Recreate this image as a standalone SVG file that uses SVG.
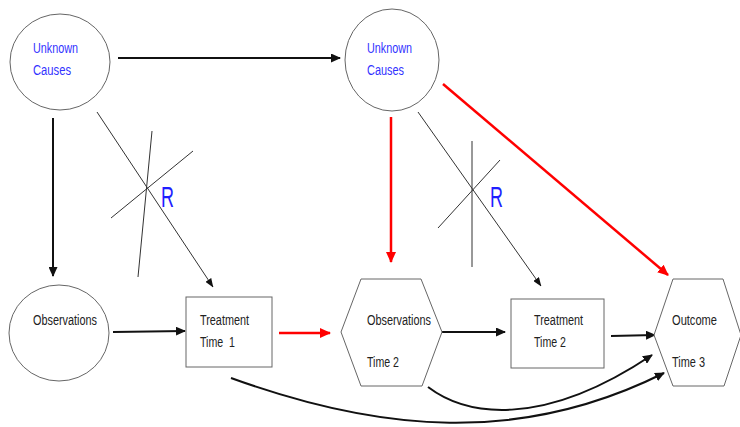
<svg xmlns="http://www.w3.org/2000/svg" width="740" height="427" viewBox="0 0 740 427">
  <style>
    .node { fill: #ffffff; stroke: #666666; stroke-width: 1; }
    .lbl { font-family: "Liberation Sans", Arial, sans-serif; font-size: 14px; fill: #222222; }
    .cause { fill: #3333ff; }
    .rnd { font-family: "Liberation Sans", Arial, sans-serif; font-size: 30px; fill: #1f1fff; }
    .arr { fill: none; stroke: #111111; stroke-width: 2; marker-end: url(#headBlack); }
    .thin { fill: none; stroke: #333333; stroke-width: 1; }
    .thinArr { fill: none; stroke: #333333; stroke-width: 1; marker-end: url(#headSmall); }
    .red { fill: none; stroke: #ff0000; stroke-width: 2.5; marker-end: url(#headRed); }
  </style>
  <defs>
    <marker id="headBlack" viewBox="0 0 10 9" refX="9" refY="4.5" markerWidth="10" markerHeight="9" markerUnits="userSpaceOnUse" orient="auto">
      <path d="M0,0 L10,4.5 L0,9 z" fill="#111111"/>
    </marker>
    <marker id="headSmall" viewBox="0 0 9 7" refX="8.5" refY="3.5" markerWidth="9" markerHeight="7" markerUnits="userSpaceOnUse" orient="auto">
      <path d="M0,0 L9,3.5 L0,7 z" fill="#111111"/>
    </marker>
    <marker id="headRed" viewBox="0 0 11 10" refX="10" refY="5" markerWidth="11" markerHeight="10" markerUnits="userSpaceOnUse" orient="auto">
      <path d="M0,0 L11,5 L0,10 z" fill="#ff0000"/>
    </marker>
  </defs>

  <rect width="740" height="427" fill="#ffffff"/>

  <!-- connectors -->
  <g id="connectors">
    <path class="arr" d="M118,58 L340,58" stroke-width="2.5"/>
    <path class="arr" d="M53,118 L53,276"/>
    <path class="thinArr" d="M97,112 L213,287"/>
    <path class="thin" d="M152,131 L138,277"/>
    <path class="thin" d="M193,151 L111,218"/>
    <path class="arr" d="M113,332 L185,331"/>
    <path class="red" d="M279,333 L330,333"/>
    <path class="arr" d="M442,332 L505,332"/>
    <path class="arr" d="M611,336 L655,335"/>
    <path class="red" d="M391,117 L391,262" stroke-width="2"/>
    <path class="red" d="M443,84 L668,275" stroke-width="3"/>
    <path class="thinArr" d="M418,112 L541,286"/>
    <path class="thin" d="M472,141 L472,267"/>
    <path class="thin" d="M500,160 L438,228"/>
    <path class="arr" d="M428,387 C465,415 540,430 652,355"/>
    <path class="arr" d="M231,378 C380,432 520,445 664,373"/>
  </g>

  <!-- randomisation marks -->
  <g id="random1">
    <text class="rnd" x="161" y="207" textLength="13" lengthAdjust="spacingAndGlyphs">R</text>
  </g>
  <g id="random2">
    <text class="rnd" x="490" y="207" textLength="13" lengthAdjust="spacingAndGlyphs">R</text>
  </g>

  <!-- nodes -->
  <g id="unknown1">
    <ellipse class="node" cx="60" cy="62" rx="50" ry="48"/>
    <text class="lbl cause" x="33" y="53" textLength="45" lengthAdjust="spacingAndGlyphs">Unknown</text>
    <text class="lbl cause" x="33" y="75" textLength="38" lengthAdjust="spacingAndGlyphs">Causes</text>
  </g>
  <g id="unknown2">
    <ellipse class="node" cx="392" cy="60" rx="47" ry="51"/>
    <text class="lbl cause" x="367" y="53" textLength="45" lengthAdjust="spacingAndGlyphs">Unknown</text>
    <text class="lbl cause" x="367" y="75" textLength="37" lengthAdjust="spacingAndGlyphs">Causes</text>
  </g>
  <g id="observations1">
    <ellipse class="node" cx="59" cy="333" rx="50" ry="48"/>
    <text class="lbl" x="33" y="325" textLength="64" lengthAdjust="spacingAndGlyphs">Observations</text>
  </g>
  <g id="treatment1">
    <rect class="node" x="186" y="297" width="86" height="70"/>
    <text class="lbl" x="200" y="325" textLength="49" lengthAdjust="spacingAndGlyphs">Treatment</text>
    <text class="lbl" x="200" y="347" textLength="35" lengthAdjust="spacingAndGlyphs" xml:space="preserve">Time  1</text>
  </g>
  <g id="observations2">
    <polygon class="node" points="341,332 361,279 421,279 442,332 422,386 361,386"/>
    <text class="lbl" x="367" y="325" textLength="64" lengthAdjust="spacingAndGlyphs">Observations</text>
    <text class="lbl" x="367" y="367" textLength="32" lengthAdjust="spacingAndGlyphs">Time 2</text>
  </g>
  <g id="treatment2">
    <rect class="node" x="511" y="299" width="93" height="69"/>
    <text class="lbl" x="534" y="325" textLength="49" lengthAdjust="spacingAndGlyphs">Treatment</text>
    <text class="lbl" x="534" y="347" textLength="32" lengthAdjust="spacingAndGlyphs">Time 2</text>
  </g>
  <g id="outcome">
    <polygon class="node" points="654,335 673,279 723,279 741,335 724,386 673,386"/>
    <text class="lbl" x="672" y="325" textLength="45" lengthAdjust="spacingAndGlyphs">Outcome</text>
    <text class="lbl" x="672" y="367" textLength="33" lengthAdjust="spacingAndGlyphs">Time 3</text>
  </g>
</svg>
